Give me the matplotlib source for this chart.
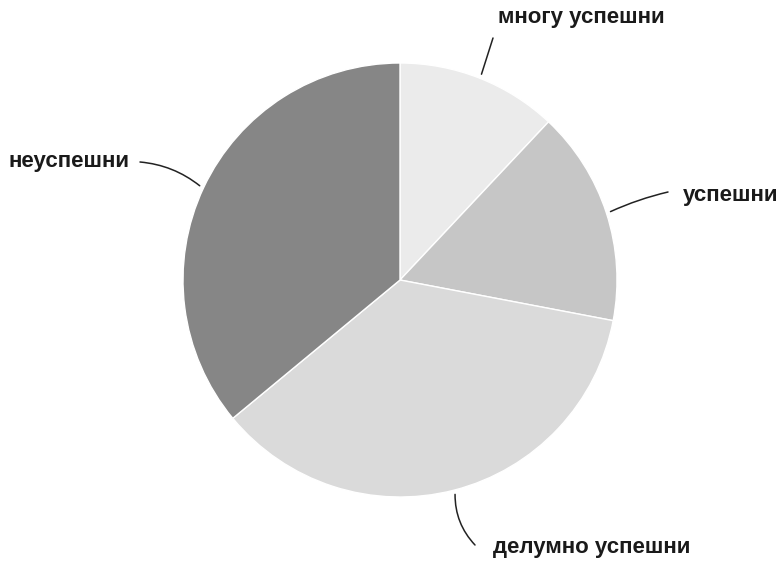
import numpy as np
import matplotlib.pyplot as plt

# Share of responses per category (percent)
labels = ["многу успешни", "успешни", "делумно успешни", "неуспешни"]
values = [12, 16, 36, 36]
colors = ["#ebebeb", "#c6c6c6", "#dadada", "#868686"]

# Label text placement in figure pixels (x, y from top) and alignment
label_pos = [(498, 18), (683, 195), (493, 547), (130, 162)]
label_ha = ["left", "left", "left", "right"]
line_end = [(493, 38), (668, 192), (475, 545), (140, 162)]
line_rad = [0.0, 0.05, -0.2, -0.15]

W, H = 781, 561
fig = plt.figure(figsize=(W / 100, H / 100), dpi=100)
cx, cy, r = 400, 280, 217
ax = fig.add_axes([(cx - r) / W, (H - cy - r) / H, 2 * r / W, 2 * r / H])

wedges, _ = ax.pie(values, colors=colors, startangle=90, counterclock=False,
                   wedgeprops=dict(edgecolor="white", linewidth=1.0))
ax.set_xlim(-1, 1)
ax.set_ylim(-1, 1)
ax.set_aspect("equal")
ax.axis("off")

for w, lab, pos, ha, end, rad in zip(wedges, labels, label_pos, label_ha, line_end, line_rad):
    mid = np.deg2rad((w.theta1 + w.theta2) / 2)
    edge = (1.02 * np.cos(mid), 1.02 * np.sin(mid))
    ax.annotate("", xy=edge, xycoords="data",
                xytext=(end[0], H - end[1]), textcoords="figure pixels",
                arrowprops=dict(arrowstyle="-", color="#222222", lw=1.1,
                                shrinkA=0, shrinkB=0,
                                connectionstyle=f"arc3,rad={rad}"),
                annotation_clip=False)
    fig.text(pos[0] / W, 1 - pos[1] / H, lab, ha=ha, va="center",
             fontsize=16, fontweight="bold", family="Liberation Sans",
             color="#1a1a1a")

fig.savefig("out.png", dpi=100, facecolor="white")
